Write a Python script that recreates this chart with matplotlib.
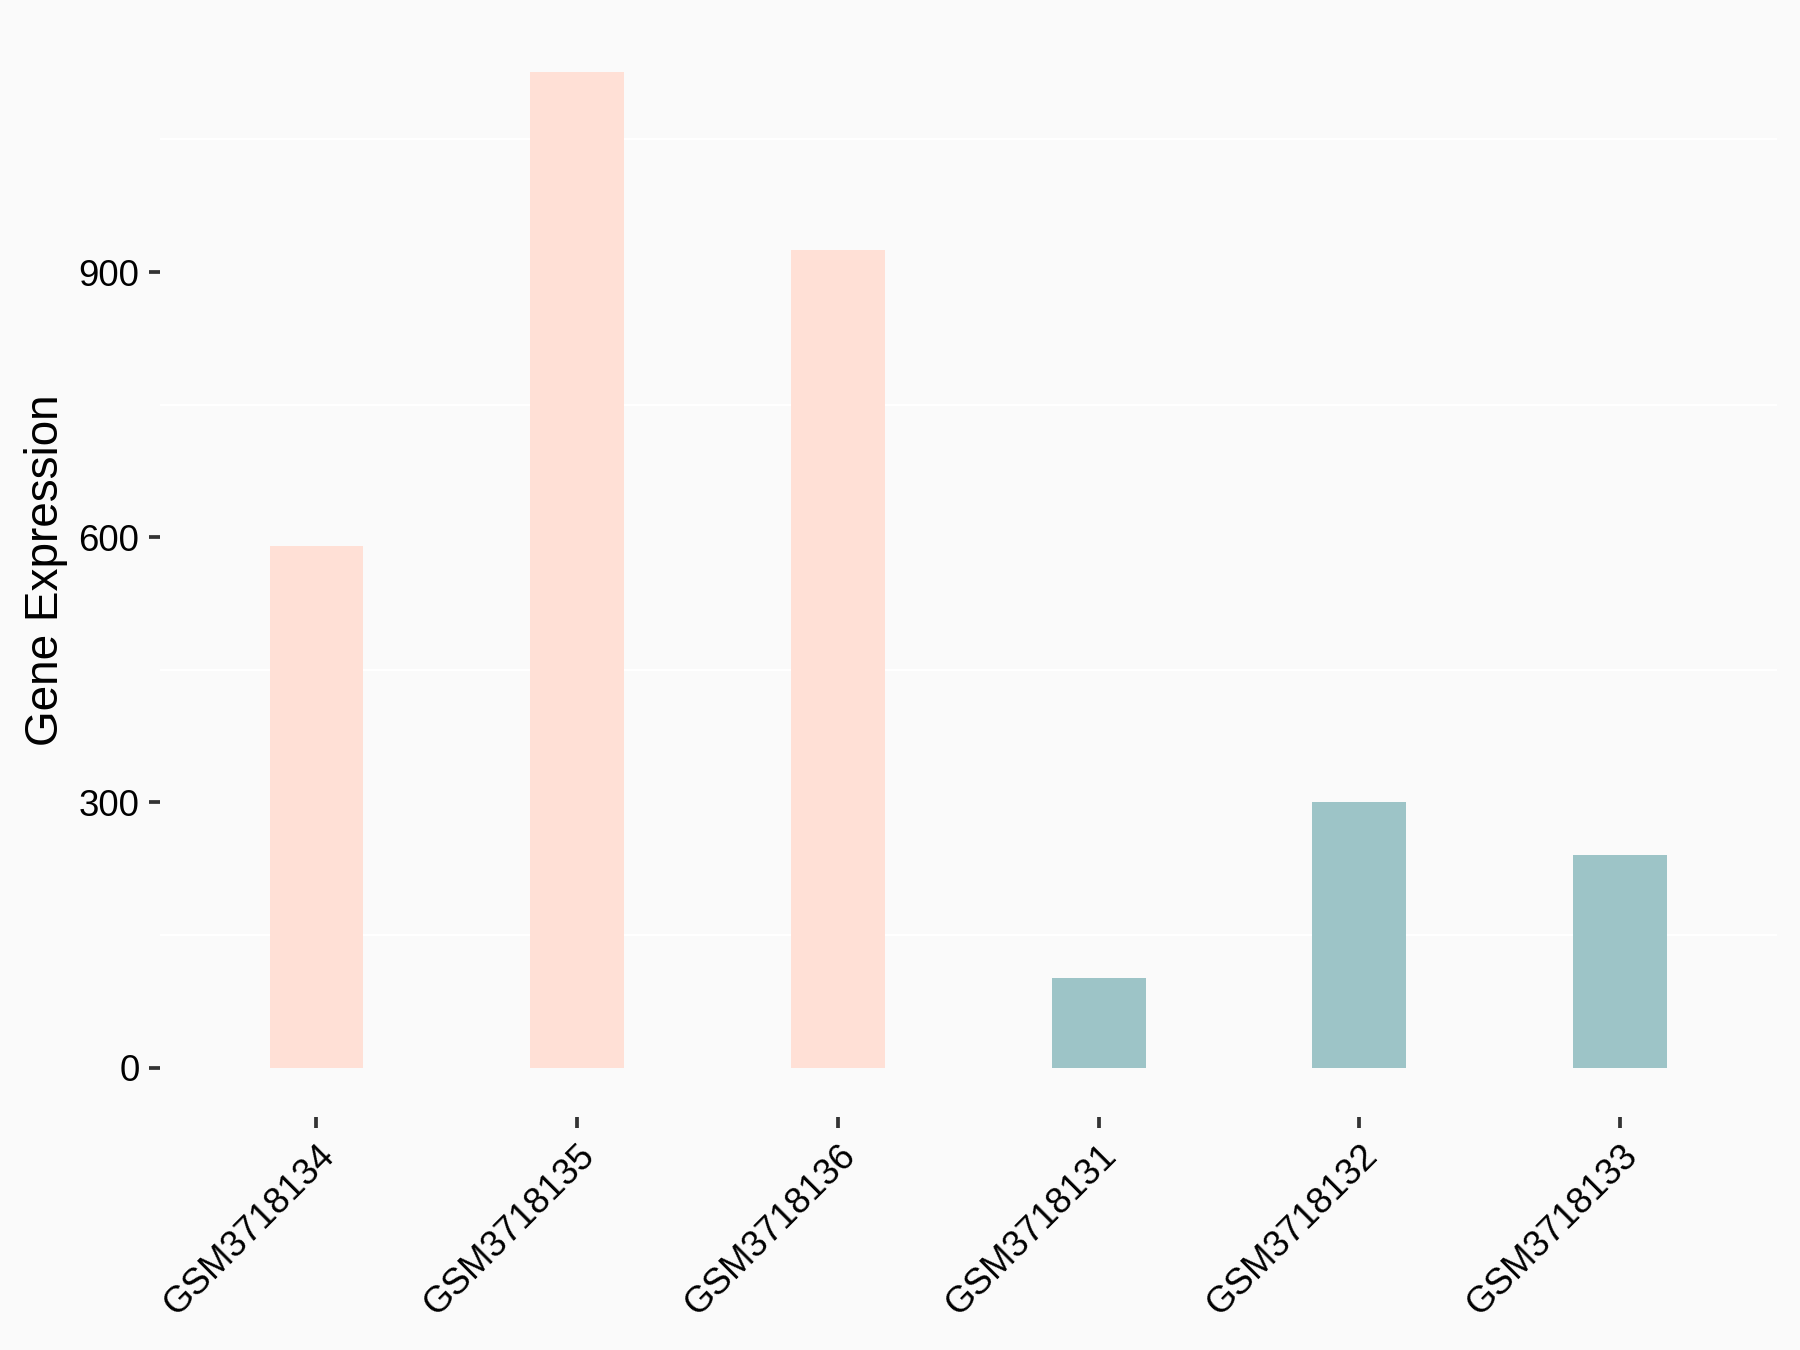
import matplotlib
matplotlib.use("Agg")
import matplotlib.pyplot as plt
from matplotlib.ticker import FixedLocator

samples = ["GSM3718134", "GSM3718135", "GSM3718136", "GSM3718131", "GSM3718132", "GSM3718133"]
expression = [590, 1126, 925, 101, 300, 240]
groups = ["A", "A", "A", "B", "B", "B"]
group_colors = {"A": "#FFE0D6", "B": "#9DC4C7"}
y_major = [0, 300, 600, 900]
y_minor = [150, 450, 750, 1050]

plt.rcParams["font.family"] = ["Liberation Sans", "DejaVu Sans"]

bg = "#FAFAFA"
fig = plt.figure(figsize=(6, 4.5), dpi=300, facecolor=bg)
ax = fig.add_axes([0.0889, 0.1723, 0.987 - 0.0889, 0.9833 - 0.1723])
ax.set_facecolor(bg)

x = list(range(len(samples)))
ax.bar(x, expression, width=0.36, color=[group_colors[g] for g in groups], zorder=2)

ymax = max(expression)
ax.set_ylim(-0.05 * ymax, 1.05 * ymax)
ax.set_xlim(-0.6, len(samples) - 0.4)

ax.yaxis.set_major_locator(FixedLocator(y_major))
ax.yaxis.set_minor_locator(FixedLocator(y_minor))
ax.grid(which="minor", axis="y", color="white", linewidth=0.5, zorder=1)
ax.grid(which="major", visible=False)

ax.set_xticks(x)
ax.set_xticklabels(samples, rotation=45, ha="right", va="top", rotation_mode="anchor")
ax.tick_params(axis="both", which="major", length=2.75, width=0.9, color="#333333",
               labelsize=8.8, labelcolor="black", pad=2.2)
ax.tick_params(axis="y", which="minor", length=0)

for s in ax.spines.values():
    s.set_visible(False)

ax.set_ylabel("Gene Expression", fontsize=11, color="black", labelpad=2.5)

fig.savefig("out.png", dpi=300, facecolor=bg)
